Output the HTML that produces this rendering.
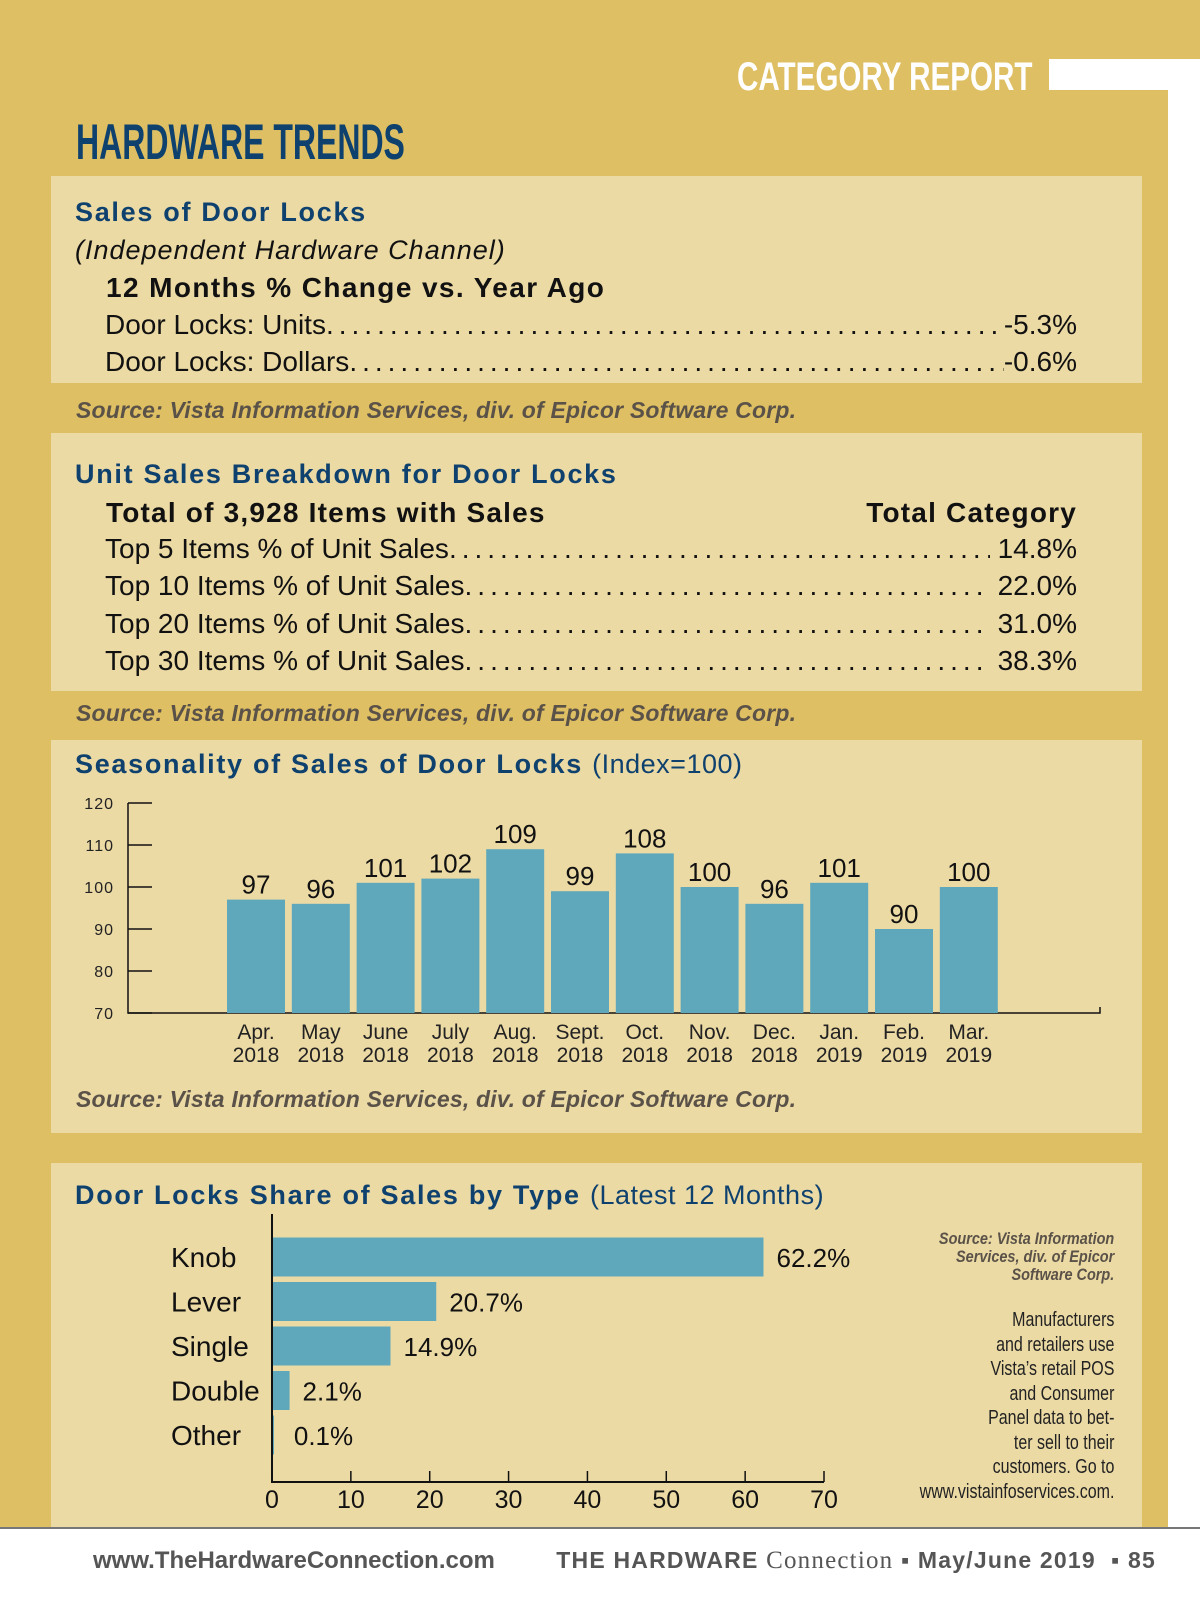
<!DOCTYPE html>
<html><head><meta charset="utf-8">
<style>
*{margin:0;padding:0;box-sizing:border-box}
body{width:1200px;height:1600px;background:#dfbf63;position:relative;overflow:hidden;font-family:"Liberation Sans",sans-serif}
.abs{position:absolute}
.panel{position:absolute;left:51px;width:1091px;background:#ecdaa5}
.navy{color:#0f416e;font-weight:bold}
.h2{font-size:27px;font-weight:bold;color:#0f416e;white-space:nowrap;letter-spacing:1.7px}
.h2 span{letter-spacing:0.5px}
.txt{font-size:27px;color:#111;white-space:nowrap}
.row{position:absolute;left:105px;width:972px;display:flex;font-size:28px;color:#111;white-space:nowrap;line-height:30px}
.row .dots{flex:1;overflow:hidden;letter-spacing:5px}
.src{position:absolute;left:76px;font-size:23px;font-style:italic;font-weight:bold;color:#5a5248;white-space:nowrap;letter-spacing:0.2px}
</style></head><body>
<div class="abs" style="left:1049px;top:59px;width:151px;height:31px;background:#fff"></div>
<div class="abs" style="left:1168px;top:90px;width:32px;height:1440px;background:#fff"></div>
<div class="abs" style="left:737px;top:55px;font-size:40px;font-weight:bold;color:#fff;transform:scaleX(0.74);transform-origin:left;white-space:nowrap">CATEGORY REPORT</div>
<div class="abs navy" style="left:76px;top:113px;font-size:50px;transform:scaleX(0.64);transform-origin:left;white-space:nowrap">HARDWARE TRENDS</div>

<div class="panel" style="top:176px;height:207px"></div>
<div class="abs h2" style="left:75px;top:197px">Sales of Door Locks</div>
<div class="abs txt" style="left:75px;top:235px;font-style:italic;letter-spacing:1px">(Independent Hardware Channel)</div>
<div class="abs txt" style="left:106px;top:272px;font-weight:bold;font-size:28px;letter-spacing:1.4px">12 Months % Change vs. Year Ago</div>
<div class="row" style="top:310px"><span>Door Locks: Units </span><span class="dots">..........................................................................................</span><span>&nbsp;-5.3%</span></div>
<div class="row" style="top:347px"><span>Door Locks: Dollars</span><span class="dots">..........................................................................................</span><span>-0.6%</span></div>
<div class="src" style="top:397px">Source: Vista Information Services, div. of Epicor Software Corp.</div>

<div class="panel" style="top:433px;height:258px"></div>
<div class="abs h2" style="left:75px;top:459px">Unit Sales Breakdown for Door Locks</div>
<div class="abs txt" style="left:106px;top:497px;font-weight:bold;font-size:28px;letter-spacing:1.2px">Total of 3,928 Items with Sales</div>
<div class="abs txt" style="right:123px;top:497px;font-weight:bold;font-size:28px;letter-spacing:1.2px">Total Category</div>
<div class="row" style="top:534px"><span>Top 5 Items % of Unit Sales</span><span class="dots">..........................................................................................</span><span>&nbsp;14.8%</span></div>
<div class="row" style="top:571px"><span>Top 10 Items % of Unit Sales</span><span class="dots">..........................................................................................</span><span>&nbsp;22.0%</span></div>
<div class="row" style="top:609px"><span>Top 20 Items % of Unit Sales</span><span class="dots">..........................................................................................</span><span>&nbsp;31.0%</span></div>
<div class="row" style="top:646px"><span>Top 30 Items % of Unit Sales</span><span class="dots">..........................................................................................</span><span>&nbsp;38.3%</span></div>
<div class="src" style="top:700px">Source: Vista Information Services, div. of Epicor Software Corp.</div>

<div class="panel" style="top:740px;height:393px"></div>
<div class="abs h2" style="left:75px;top:749px">Seasonality of Sales of Door Locks <span style="font-weight:normal">(Index=100)</span></div>
<svg class="abs" style="left:0;top:0" width="1200" height="1600" id="chart1"></svg>
<div class="src" style="top:1086px">Source: Vista Information Services, div. of Epicor Software Corp.</div>

<div class="panel" style="top:1163px;height:365px"></div>
<div class="abs h2" style="left:75px;top:1180px">Door Locks Share of Sales by Type <span style="font-weight:normal">(Latest 12 Months)</span></div>
<svg class="abs" style="left:0;top:0" width="1200" height="1600" id="chart2"></svg>
<div class="abs" style="right:86px;top:1230px;text-align:right;font-size:17px;font-style:italic;font-weight:bold;color:#5a5248;line-height:18px;transform:scaleX(0.85);transform-origin:right;white-space:nowrap">Source: Vista Information<br>Services, div. of Epicor<br>Software Corp.</div>
<div class="abs" style="right:86px;top:1308px;text-align:right;font-size:20px;color:#222;line-height:24.5px;transform:scaleX(0.8);transform-origin:right;white-space:nowrap">Manufacturers<br>and retailers use<br>Vista’s retail POS<br>and Consumer<br>Panel data to bet-<br>ter sell to their<br>customers. Go to<br>www.vistainfoservices.com.</div>

<div class="abs" style="left:0;top:1527px;width:1200px;height:73px;background:#fff;border-top:2px solid #777"></div>
<div class="abs" style="left:93px;top:1547px;font-size:24px;font-weight:bold;color:#555">www.TheHardwareConnection.com</div>
<div class="abs" style="right:44px;top:1547px;font-size:23px;font-weight:bold;color:#555;white-space:nowrap;letter-spacing:1.2px">THE HARDWARE <span style="font-family:'Liberation Serif',serif;font-weight:normal;font-size:25px">Connection</span> ▪ May/June 2019 &nbsp;▪ 85</div>

<script>
const months=["Apr.","May","June","July","Aug.","Sept.","Oct.","Nov.","Dec.","Jan.","Feb.","Mar."];
const years=["2018","2018","2018","2018","2018","2018","2018","2018","2018","2019","2019","2019"];
const indexValues=[97,96,101,102,109,99,108,100,96,101,90,100];
const yTicks=[70,80,90,100,110,120];
const types=["Knob","Lever","Single","Double","Other"];
const shares=[62.2,20.7,14.9,2.1,0.1];
const xTicks=[0,10,20,30,40,50,60,70];
const NS="http://www.w3.org/2000/svg";
function mk(svg,tag,attrs,text){const e=document.createElementNS(NS,tag);for(const k in attrs)e.setAttribute(k,attrs[k]);if(text!==undefined)e.textContent=text;svg.appendChild(e);return e;}
// chart 1
const c1=document.getElementById('chart1');
const y1=v=>1013-(v-70)*(1013-803)/50;
const x1=i=>256+i*64.8;
let ax=mk(c1,'path',{d:'M128 803 V1013 H1100 V1007',stroke:'#111','stroke-width':1.5,fill:'none'});

yTicks.forEach(t=>{
 const tk=mk(c1,'line',{x1:128,x2:152,y1:y1(t),y2:y1(t),stroke:'#111','stroke-width':1.5});
 
 const l=mk(c1,'text',{x:114,y:y1(t)+6,'text-anchor':'end','font-size':16,fill:'#222','font-family':'Liberation Sans, sans-serif','letter-spacing':1},t);
 
});
indexValues.forEach((v,i)=>{
 const r=mk(c1,'rect',{x:x1(i)-29,y:y1(v),width:58,height:1013-y1(v),fill:'#5fa8bb'});
 
 const t=mk(c1,'text',{x:x1(i),y:y1(v)-6,'text-anchor':'middle','font-size':26,fill:'#111','font-family':'Liberation Sans, sans-serif'},v);
 
 const m=mk(c1,'text',{x:x1(i),y:1039,'text-anchor':'middle','font-size':21,fill:'#222','font-family':'Liberation Sans, sans-serif','textLength':'','style':''},months[i]);
 m.removeAttribute('textLength');m.removeAttribute('style');
 
 const yr=mk(c1,'text',{x:x1(i),y:1062,'text-anchor':'middle','font-size':21,fill:'#222','font-family':'Liberation Sans, sans-serif'},years[i]);
 
});
// chart 2
const c2=document.getElementById('chart2');
const x2=v=>272+v*(824-272)/70;
const y2=i=>1257+i*44.5;
let ax2=mk(c2,'path',{d:'M272 1214 V1482 H824',stroke:'#111','stroke-width':2,fill:'none'});

xTicks.forEach(t=>{
 const tk=mk(c2,'line',{x1:x2(t),x2:x2(t),y1:1471,y2:1482,stroke:'#111','stroke-width':1.5});
 
 const l=mk(c2,'text',{x:x2(t),y:1508,'text-anchor':'middle','font-size':25,fill:'#111','font-family':'Liberation Sans, sans-serif'},t);
 
});
shares.forEach((v,i)=>{
 const r=mk(c2,'rect',{x:273,y:y2(i)-19.5,width:Math.max(x2(v)-272,1),height:39,fill:'#5fa8bb'});
 
 const c=mk(c2,'text',{x:171,y:y2(i)+10,'font-size':28,fill:'#111','font-family':'Liberation Sans, sans-serif'},types[i]);
 
 const t=mk(c2,'text',{x:Math.max(x2(v),x2(1))+14,y:y2(i)+10,'font-size':26,fill:'#111','font-family':'Liberation Sans, sans-serif'},v.toFixed(1)+'%');
 
});
</script>
</body></html>
